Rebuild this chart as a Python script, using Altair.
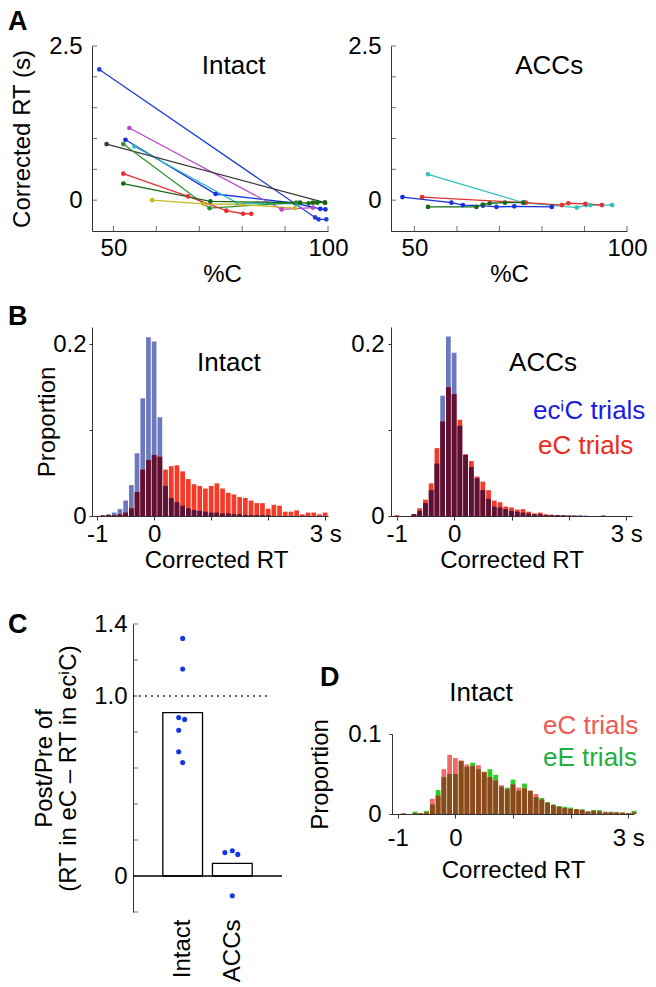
import altair as alt
import pandas as pd

W, H = 542, 866
FONT = 'Liberation Sans'
AXC = '#333333'

# ---------------- Panel A : corrected RT vs %C (one line per animal) ----------------
intact_pc = [
    [46.7, 97.0, 97.8, 99.6],
    [52.8, 73.8, 92.4, 98.2, 99.4],
    [53.7, 89.2, 96.5],
    [54.9, 79.0, 93.0],
    [48.4, 99.3],
    [52.3, 72.4, 92.6],
    [52.3, 67.4, 76.3, 80.2, 82.1],
    [52.3, 72.6, 93.5, 95.5, 96.5, 97.5, 99.3],
    [59.0, 71.0, 79.4, 92.3],
]
intact_rt = [
    [2.12, -0.28, -0.31, -0.31],
    [0.98, 0.10, -0.05, -0.14, -0.15],
    [1.17, -0.15, -0.12],
    [0.87, -0.05, -0.06],
    [0.91, -0.04],
    [0.91, -0.13, -0.04],
    [0.43, 0.06, -0.17, -0.22, -0.22],
    [0.27, -0.02, -0.04, -0.05, -0.04, -0.04, -0.04],
    [0.00, -0.06, -0.07, -0.13],
]
intact_color = ['#1f3fd6', '#1530e0', '#b848c8', '#30b8c4', '#3a3a3a',
                '#2e8f2e', '#e53030', '#176817', '#c9b81e']
accs_pc = [
    [53.2, 75.6, 88.2, 90.4, 91.4, 96.5],
    [47.2, 58.7, 61.4, 66.1, 69.3, 73.5, 82.3],
    [51.8, 76.2, 84.7, 86.2, 90.2, 94.1],
    [53.2, 64.6, 66.1, 67.7, 71.3, 75.6],
]
accs_rt = [
    [0.42, -0.04, -0.12, -0.08, -0.08, -0.08],
    [0.05, -0.04, -0.08, -0.09, -0.11, -0.10, -0.11],
    [0.05, -0.04, -0.08, -0.05, -0.06, -0.08],
    [-0.11, -0.11, -0.07, -0.05, -0.04, -0.04],
]
accs_color = ['#30c0c0', '#1530e0', '#e53030', '#176817']
a_yticks = [0, 0.5, 1.0, 1.5, 2.0, 2.5]
a_xticks = [50, 60, 70, 80, 90, 100]

# ---------------- Panels B / D : RT histograms (bins of 0.1 s) ----------------
bin_k = list(range(-10, 32))
bin_centers = [round(k * 0.1, 1) for k in bin_k]
b_intact_ecic = [0, 0.001, 0.002, 0.004, 0.008, 0.018, 0.036, 0.073, 0.137, 0.208,
                 0.203, 0.115, 0.035, 0.021, 0.016, 0.012, 0.009, 0.007, 0.006, 0.005,
                 0.004, 0.004, 0.003, 0.003, 0.002, 0.002, 0.001, 0.001, 0.001, 0.001,
                 0.001, 0, 0, 0, 0, 0, 0, 0, 0, 0,
                 0, 0]
b_intact_ec = [0, 0.0005, 0.001, 0.001, 0.002, 0.004, 0.009, 0.028, 0.054, 0.065,
               0.071, 0.069, 0.054, 0.058, 0.059, 0.052, 0.043, 0.037, 0.035, 0.032,
               0.035, 0.038, 0.032, 0.027, 0.025, 0.022, 0.021, 0.018, 0.015, 0.015,
               0.0085, 0.013, 0.012, 0.005, 0.005, 0.0066, 0.002, 0.004, 0.004, 0.002,
               0.004, 0]
b_accs_ecic = [0, 0, 0, 0.002, 0.006, 0.015, 0.030, 0.061, 0.140, 0.209,
               0.190, 0.105, 0.071, 0.057, 0.044, 0.030, 0.020, 0.011, 0.010, 0.008,
               0.006, 0.005, 0.004, 0.003, 0.002, 0.002, 0.001, 0.001, 0.001, 0.001,
               0.0005, 0.0005, 0.001, 0.0005, 0, 0, 0.001, 0, 0, 0,
               0, 0]
b_accs_ec = [0.001, 0, 0, 0.002, 0.009, 0.019, 0.038, 0.079, 0.110, 0.150,
             0.142, 0.112, 0.072, 0.064, 0.046, 0.040, 0.030, 0.018, 0.016, 0.011,
             0.010, 0.0075, 0.008, 0.005, 0.003, 0.004, 0.002, 0.0015, 0.001, 0.0008,
             0.0005, 0.0003, 0, 0, 0, 0, 0, 0, 0, 0,
             0, 0]
d_intact_ec = [0, 0.001, 0, 0.001, 0.001, 0.002, 0.019, 0.023, 0.056, 0.074,
               0.070, 0.067, 0.062, 0.060, 0.061, 0.053, 0.046, 0.042, 0.036, 0.031,
               0.037, 0.033, 0.032, 0.029, 0.025, 0.018, 0.014, 0.011, 0.009, 0.0075,
               0.0065, 0.006, 0.005, 0.003, 0.004, 0.003, 0.003, 0.002, 0.002, 0.0015,
               0.001, 0.002]
d_intact_ee = [0, 0.0005, 0, 0.003, 0.001, 0.004, 0.012, 0.030, 0.046, 0.050,
               0.050, 0.066, 0.059, 0.064, 0.056, 0.052, 0.056, 0.049, 0.034, 0.033,
               0.043, 0.029, 0.038, 0.029, 0.021, 0.020, 0.015, 0.012, 0.010, 0.009,
               0.008, 0.006, 0.006, 0.003, 0.005, 0.005, 0.002, 0.003, 0.002, 0.002,
               0.001, 0.004]
hist_xticks = [-1, 0, 1, 2, 3]

# ---------------- Panel C : post/pre ratio ----------------
c_group = ['Intact'] * 7 + ['ACCs'] * 4
c_value = [1.32, 1.15, 0.88, 0.87, 0.81, 0.69, 0.63, 0.13, 0.14, 0.12, -0.11]
c_jitter = [0, 0, -0.08, 0.04, -0.08, -0.08, 0, -0.15, 0, 0.11, 0]
c_group_pos = {'Intact': 1, 'ACCs': 2}
c_yticks = [-0.2, 0, 0.2, 0.4, 0.6, 0.8, 1.0, 1.2, 1.4]

one = pd.DataFrame({'one': [1]})


def label(text, x, y, size=26, color='black', align='center'):
    return alt.Chart(one).mark_text(text=text, fontSize=size, color=color, align=align,
                                    baseline='middle', font=FONT).encode(
        x=alt.datum(x), y=alt.datum(y))


def a_panel(pcs, rts, cols, xdom, xr, ytitle, xtitle_x, name, nx, ny):
    rows = []
    for s, (xs_, ys_, c) in enumerate(zip(pcs, rts, cols)):
        for i, (x, y) in enumerate(zip(xs_, ys_)):
            rows.append({'s': s, 'i': i, 'pc': x, 'rt': y, 'col': c})
    df = pd.DataFrame(rows)
    xs = alt.Scale(domain=xdom, range=xr, nice=False, zero=False)
    ys = alt.Scale(domain=[-0.5, 2.5], range=[185, 0], nice=False, zero=False)
    xa_kw = dict(orient='bottom', offset=-(H - 185), values=[50, 100], format='d',
                 ticks=False, tickSize=0, labelPadding=5, title='%C', titleY=31,
                 titleBaseline='top', titleAlign='center')
    if xtitle_x is not None:
        xa_kw['titleX'] = xtitle_x
    xa = alt.Axis(**xa_kw)
    ya_kw = dict(orient='left', offset=-xr[0], values=[0, 2.5], format='.1~f',
                 ticks=False, tickSize=0, labelPadding=10)
    if ytitle:
        ya_kw.update(title=ytitle, titleX=-82, titleAngle=270, titleBaseline='top',
                     titleAlign='center')
    else:
        ya_kw['title'] = None
    ya = alt.Axis(**ya_kw)
    X = alt.X('pc:Q', scale=xs, axis=xa)
    Y = alt.Y('rt:Q', scale=ys, axis=ya)
    lines = alt.Chart(df).mark_line(strokeWidth=1.3).encode(
        x=X, y=Y, color=alt.Color('col:N', scale=None), detail='s:N', order='i:Q')
    pts = alt.Chart(df).mark_circle(size=22, opacity=1).encode(
        x=X, y=Y, color=alt.Color('col:N', scale=None))
    yt = alt.Chart(pd.DataFrame({'v': a_yticks})).mark_tick(
        orient='horizontal', size=5, thickness=1, color=AXC, xOffset=2.5).encode(
        x=alt.datum(xdom[0]), y=alt.Y('v:Q', scale=ys, axis=ya))
    xt = alt.Chart(pd.DataFrame({'v': a_xticks})).mark_tick(
        orient='vertical', size=5, thickness=1, color=AXC, yOffset=-2.5).encode(
        x=alt.X('v:Q', scale=xs, axis=xa), y=alt.datum(-0.5))
    return alt.layer(lines, pts, yt, xt, label(name, nx, ny))


def hist_panel(a_vals, b_vals, ca, cb, cov, xdom, xr, ydom, yr, xaxis, yaxis, extras):
    df = pd.DataFrame({'c': bin_centers, 'a': a_vals, 'b': b_vals})
    xs = alt.Scale(domain=xdom, range=xr, nice=False, zero=False)
    ys = alt.Scale(domain=ydom, range=yr, nice=False)
    base = alt.Chart(df).transform_calculate(
        lo='datum.c - 0.05', hi='datum.c + 0.05', ov='min(datum.a, datum.b)')
    layers = []
    for f, col in (('a', ca), ('b', cb), ('ov', cov)):
        layers.append(base.mark_bar(color=col, xOffset=0.5, x2Offset=-0.5).encode(
            x=alt.X('lo:Q', scale=xs, axis=xaxis),
            x2='hi:Q',
            y=alt.Y(f + ':Q', scale=ys, axis=yaxis),
            y2=alt.datum(0)))
    return alt.layer(*layers, *extras)


XLAB = "datum.value == 3 ? '\u00a0\u00a03\u00a0s' : datum.value == -1 ? '-1' : datum.value == 0 ? '0' : ''"


def hist_xaxis(offset, pad, ty, tx=None):
    kw = dict(orient='bottom', offset=offset, values=hist_xticks, labelExpr=XLAB,
              tickSize=4, labelPadding=pad, title='Corrected RT', titleY=ty,
              titleBaseline='top', titleAlign='center')
    if tx is not None:
        kw['titleX'] = tx
    return alt.Axis(**kw)


def hist_yaxis(offset, values, pad, title=None, tx=None):
    kw = dict(orient='left', offset=offset, values=values,
              labelExpr="datum.value == 0.1 && " + ('true' if values[-1] > 0.15 else 'false') +
                        " ? '' : format(datum.value, '.1~f')",
              tickSize=3, labelPadding=pad)
    if title:
        kw.update(title=title, titleX=tx, titleAngle=270, titleBaseline='top', titleAlign='center')
    else:
        kw['title'] = None
    return alt.Axis(**kw)


# ---- A ----
A_left = a_panel(intact_pc, intact_rt, intact_color, [45, 100], [0, 236],
                 'Corrected RT (s)', 130, 'Intact', 78, 2.17)
A_right = a_panel(accs_pc, accs_rt, accs_color, [44.5, 100], [299, 535],
                  None, None, 'ACCs', 81.7, 2.17)

# ---- B ----
B_left = hist_panel(b_intact_ecic, b_intact_ec, '#6d79bf', '#f53a28', '#5c1235',
                    [-1.09, 3.05], [0, 236], [0, 0.22], [470, 281],
                    hist_xaxis(-(H - 470), 2, 32, 124),
                    hist_yaxis(0, [0, 0.1, 0.2], 3, 'Proportion', -57),
                    [label('Intact', 1.31, 0.178)])
B_right = hist_panel(b_accs_ecic, b_accs_ec, '#6d79bf', '#f53a28', '#5c1235',
                     [-1.1, 3.1], [299, 540], [0, 0.22], [470, 281],
                     hist_xaxis(-(H - 470), 2, 32),
                     hist_yaxis(-299, [0, 0.1, 0.2], 4),
                     [label('ACCs', 1.55, 0.178),
                      label('ec\u2071C trials', 1.375, 0.122, color='#1a1ae6', align='left'),
                      label('eC trials', 1.462, 0.0815, color='#ee2a1c', align='left')])

# ---- D ----
D = hist_panel(d_intact_ee, d_intact_ec, '#26d126', '#ef6b6b', '#8b4a1b',
               [-1.1, 3.1], [300, 542], [0, 0.1], [768, 688],
               hist_xaxis(-(H - 768), 8, 44),
               hist_yaxis(-300, [0, 0.1], 8, 'Proportion', -84),
               [label('Intact', 0.445, 0.151),
                label('eC trials', 1.52, 0.11, color='#ee5a55', align='left'),
                label('eE trials', 1.52, 0.07, color='#1fae3f', align='left')])

# ---- C ----
cdf = pd.DataFrame({'group': c_group, 'val': c_value, 'jit': c_jitter,
                    'gi': [c_group_pos[g] for g in c_group]})
cxs = alt.Scale(domain=[0, 3], range=[41, 190], nice=False, zero=False)
cys = alt.Scale(domain=[-0.2, 1.4], range=[866, 578], nice=False)
cxa = alt.Axis(orient='bottom', offset=0, values=[1, 2],
               labelExpr="datum.value == 1 ? 'Intact' : 'ACCs'", labelAngle=270,
               labelAlign='right', labelBaseline='middle', domain=False, ticks=False,
               tickSize=0, labelPadding=7, title=None)
cya = alt.Axis(orient='left', offset=-41, values=[0, 1.0, 1.4],
               labelExpr="datum.value == 0 ? '0' : format(datum.value, '.1f')",
               ticks=False, tickSize=0, labelPadding=6,
               title=['Post/Pre of', '(RT in eC \u2013 RT in ec\u2071C)'], titleX=-101,
               titleAngle=270, titleBaseline='top', titleAlign='center', titleLineHeight=24)
c_bars = alt.Chart(cdf).transform_aggregate(m='mean(val)', groupby=['gi']).transform_calculate(
    lo='datum.gi - 0.4', hi='datum.gi + 0.4').mark_bar(
    fill='white', stroke='black', strokeWidth=1.3).encode(
    x=alt.X('lo:Q', scale=cxs, axis=cxa), x2='hi:Q',
    y=alt.Y('m:Q', scale=cys, axis=cya), y2=alt.datum(0))
c_zero = alt.Chart(one).mark_rule(color='black', strokeWidth=1.3).encode(
    x=alt.datum(0), x2=alt.datum(3), y=alt.datum(0))
c_dot = alt.Chart(one).mark_rule(color=AXC, strokeWidth=1.3, strokeDash=[2, 4]).encode(
    x=alt.datum(0), x2=alt.datum(2.72), y=alt.datum(1.0))
c_pts = alt.Chart(cdf).transform_calculate(px='datum.gi + datum.jit').mark_circle(
    size=26, color='#1438e6', opacity=1).encode(
    x=alt.X('px:Q', scale=cxs, axis=cxa), y=alt.Y('val:Q', scale=cys, axis=cya))
c_ticks = alt.Chart(pd.DataFrame({'v': c_yticks})).mark_tick(
    orient='horizontal', size=5, thickness=1, color=AXC, xOffset=2.5).encode(
    x=alt.datum(0), y=alt.Y('v:Q', scale=cys, axis=cya))
C = alt.layer(c_bars, c_zero, c_dot, c_pts, c_ticks)


# ---- panel letters ----
def letter(t, x, y):
    return alt.Chart(one).mark_text(text=t, fontSize=27, fontWeight='bold', font=FONT,
                                    align='left', baseline='top', color='black').encode(
        x=alt.value(x), y=alt.value(y))


letters = alt.layer(letter('A', -84, -37), letter('B', -84, 258),
                    letter('C', -84, 566), letter('D', 228, 619))

chart = alt.layer(A_left, A_right, B_left, B_right, C, D, letters).resolve_scale(
    x='independent', y='independent').properties(
    width=W, height=H, padding=0).configure(font=FONT).configure_axis(
    labelFont=FONT, titleFont=FONT, labelFontSize=24, titleFontSize=24,
    titleFontWeight='normal', labelColor='black', titleColor='black',
    domainColor=AXC, tickColor=AXC, domainWidth=1, grid=False,
    labelFlush=False, labelOverlap=False, labelBound=False, titleLimit=1000,
    labelLimit=400).configure_view(stroke=None)

chart.save('out.html', embed_options={'renderer': 'svg', 'actions': False})
